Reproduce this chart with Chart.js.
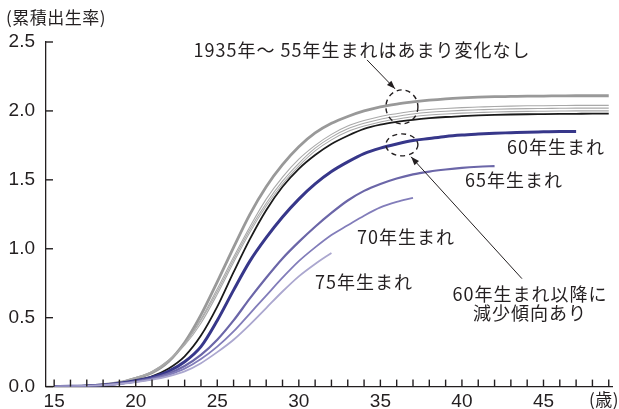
<!DOCTYPE html>
<html lang="ja">
<head>
<meta charset="utf-8">
<script src="https://cdn.jsdelivr.net/npm/chart.js@4.4.1/dist/chart.umd.min.js"></script>
<style>
  html, body { margin: 0; padding: 0; background: #fff; }
  #wrap { position: relative; width: 619px; height: 409px; }
</style>
</head>
<body>
<div id="wrap"><canvas id="grafico"></canvas></div>
<script>
// 出生コーホート別 累積出生率

// ===================== DADOS =====================
const idades = [15, 16, 17, 18, 19, 20, 21, 22, 23, 24, 25, 26, 27, 28, 29, 30, 31, 32,
                33, 34, 35, 36, 37, 38, 39, 40, 41, 42, 43, 44, 45, 46, 47, 48, 49];
const xRotulos = [15, 20, 25, 30, 35, 40, 45];
const yRotulos = [0, 0.5, 1.0, 1.5, 2.0, 2.5];

const c1935 = [0, 0.002, 0.006, 0.015, 0.03, 0.06, 0.10, 0.18, 0.32, 0.52, 0.76, 1.01, 1.25, 1.45,
               1.61, 1.74, 1.84, 1.91, 1.96, 2.00, 2.03, 2.05, 2.065, 2.078, 2.088, 2.095, 2.10,
               2.103, 2.105, 2.107, 2.108, 2.109, 2.11, 2.11, 2.11];
const c1940 = [0, 0.002, 0.006, 0.015, 0.03, 0.06, 0.10, 0.18, 0.31, 0.49, 0.71, 0.94, 1.16, 1.36,
               1.52, 1.65, 1.75, 1.83, 1.89, 1.93, 1.96, 1.98, 1.998, 2.01, 2.018, 2.024, 2.028,
               2.032, 2.035, 2.037, 2.038, 2.039, 2.04, 2.04, 2.04];
const c1945 = [0, 0.002, 0.006, 0.016, 0.032, 0.065, 0.11, 0.19, 0.31, 0.48, 0.69, 0.92, 1.14, 1.33,
               1.49, 1.62, 1.73, 1.81, 1.87, 1.91, 1.94, 1.96, 1.978, 1.99, 1.998, 2.004, 2.008,
               2.012, 2.015, 2.017, 2.018, 2.019, 2.02, 2.02, 2.02];
const c1950 = [0, 0.002, 0.006, 0.016, 0.032, 0.065, 0.11, 0.19, 0.30, 0.46, 0.67, 0.90, 1.12, 1.31,
               1.47, 1.60, 1.71, 1.79, 1.85, 1.89, 1.92, 1.94, 1.958, 1.97, 1.978, 1.984, 1.988,
               1.992, 1.995, 1.997, 1.998, 1.999, 2.00, 2.00, 2.00];
const c1955 = [0, 0.002, 0.005, 0.012, 0.025, 0.045, 0.075, 0.13, 0.22, 0.37, 0.58, 0.83, 1.07, 1.28,
               1.45, 1.58, 1.68, 1.76, 1.82, 1.87, 1.90, 1.92, 1.935, 1.947, 1.956, 1.962, 1.967,
               1.971, 1.974, 1.976, 1.977, 1.978, 1.979, 1.98, 1.98];
const c1960 = [0, 0.002, 0.005, 0.012, 0.024, 0.042, 0.068, 0.11, 0.18, 0.29, 0.48, 0.70, 0.91, 1.08,
               1.23, 1.36, 1.47, 1.56, 1.63, 1.69, 1.73, 1.76, 1.785, 1.80, 1.815, 1.825, 1.832,
               1.838, 1.842, 1.846, 1.848, 1.85, 1.85];
const c1965 = [0, 0.002, 0.005, 0.011, 0.022, 0.038, 0.06, 0.095, 0.15, 0.23, 0.34, 0.48, 0.64, 0.79,
               0.93, 1.05, 1.16, 1.26, 1.35, 1.42, 1.47, 1.51, 1.54, 1.56, 1.575, 1.587, 1.595, 1.60];
const c1970 = [0, 0.002, 0.005, 0.011, 0.021, 0.035, 0.055, 0.085, 0.13, 0.20, 0.29, 0.40, 0.53, 0.66,
               0.79, 0.91, 1.01, 1.10, 1.17, 1.24, 1.30, 1.34, 1.37];
const c1975 = [0, 0.002, 0.005, 0.01, 0.019, 0.032, 0.05, 0.075, 0.11, 0.17, 0.25, 0.34, 0.45, 0.57,
               0.69, 0.80, 0.89, 0.97];

// ===================== CORES =====================
const COR_EIXO  = "#231f20";
const COR_TEXTO = "#231f20";
const FONTE_JP  = '"Noto Sans CJK JP", "Noto Sans", sans-serif';
const FONTE_NUM = '"Liberation Sans", Arial, sans-serif';

const series = [
    { dados: c1975, cor: "#aba7cf", largura: 1.8 },
    { dados: c1970, cor: "#827dba", largura: 1.8 },
    { dados: c1965, cor: "#6b66a8", largura: 2.2 },
    { dados: c1960, cor: "#37378a", largura: 3 },
    { dados: c1950, cor: "#a9a9a9", largura: 1.1 },
    { dados: c1945, cor: "#a9a9a9", largura: 1.1 },
    { dados: c1940, cor: "#a9a9a9", largura: 1.1 },
    { dados: c1955, cor: "#1a1a1a", largura: 1.8 },
    { dados: c1935, cor: "#999999", largura: 2.8 },
];

// anotações em coordenadas de dados (idade, taxa)
const textos = [
    { t: "1935年～ 55年生まれはあまり変化なし", x: 33.87, y: 2.442 },
    { t: "60年生まれ", x: 45.77, y: 1.739 },
    { t: "65年生まれ", x: 43.19, y: 1.50 },
    { t: "70年生まれ", x: 36.57, y: 1.087 },
    { t: "75年生まれ", x: 34.0, y: 0.761 },
    { t: "60年生まれ以降に", x: 44.17, y: 0.674 },
    { t: "減少傾向あり", x: 44.17, y: 0.535 },
];
const circulos = [
    { x: 36.32, y: 2.029, rx: 16, ry: 17 },
    { x: 36.32, y: 1.754, rx: 16, ry: 11 },
];
const setas = [
    { x1: 34.18, y1: 2.37, x2: 35.9, y2: 2.16 },
    { x1: 43.68, y1: 0.783, x2: 36.88, y2: 1.667 },
];

// ===================== PLUGIN =====================
function seta(ctx, x1, y1, x2, y2) {
    const ang = Math.atan2(y2 - y1, x2 - x1);
    ctx.beginPath();
    ctx.moveTo(x1, y1);
    ctx.lineTo(x2, y2);
    ctx.stroke();
    ctx.beginPath();
    ctx.moveTo(x2, y2);
    ctx.lineTo(x2 - 9 * Math.cos(ang - 0.35), y2 - 9 * Math.sin(ang - 0.35));
    ctx.lineTo(x2 - 9 * Math.cos(ang + 0.35), y2 - 9 * Math.sin(ang + 0.35));
    ctx.closePath();
    ctx.fill();
}

const decoracao = {
    id: "decoracao",
    afterDraw(chart) {
        const { ctx, scales: { x, y } } = chart;
        const base = y.getPixelForValue(0);
        const esq  = x.getPixelForValue(14.5);
        ctx.save();
        ctx.strokeStyle = COR_EIXO;
        ctx.lineWidth = 1.4;

        // marcas internas dos eixos (para cima / para a direita)
        for (const v of idades) {
            const px = x.getPixelForValue(v);
            ctx.beginPath();
            ctx.moveTo(px, base);
            ctx.lineTo(px, base - 7);
            ctx.stroke();
        }
        for (const v of yRotulos) {
            const py = y.getPixelForValue(v);
            ctx.beginPath();
            ctx.moveTo(esq, py);
            ctx.lineTo(esq + 7, py);
            ctx.stroke();
        }

        ctx.fillStyle = COR_EIXO;

        // círculos tracejados
        ctx.setLineDash([5, 4]);
        ctx.lineWidth = 1.4;
        circulos.forEach(c => {
            ctx.beginPath();
            ctx.ellipse(x.getPixelForValue(c.x), y.getPixelForValue(c.y), c.rx, c.ry, 0, 0, Math.PI * 2);
            ctx.stroke();
        });
        ctx.setLineDash([]);

        // setas
        ctx.lineWidth = 1;
        setas.forEach(s => seta(ctx,
            x.getPixelForValue(s.x1), y.getPixelForValue(s.y1),
            x.getPixelForValue(s.x2), y.getPixelForValue(s.y2)));

        // textos
        ctx.fillStyle = COR_TEXTO;
        ctx.font = "18px " + FONTE_JP;
        ctx.letterSpacing = "1px";
        ctx.textAlign = "center";
        ctx.textBaseline = "middle";
        textos.forEach(a => ctx.fillText(a.t, x.getPixelForValue(a.x), y.getPixelForValue(a.y)));

        ctx.font = "17px " + FONTE_JP;
        ctx.letterSpacing = "0.5px";
        ctx.textAlign = "left";
        ctx.fillText("(累積出生率)", 6, 18);
        ctx.textAlign = "right";
        ctx.fillText("(歳)", 619, 400);
        ctx.restore();
    }
};

// ===================== GRÁFICO =====================
const datasets = series.map(s => ({
    data: s.dados.map((v, i) => ({ x: idades[i], y: v })),
    borderColor: s.cor,
    borderWidth: s.largura,
    pointRadius: 0,
    fill: false,
    cubicInterpolationMode: "monotone",
}));

new Chart(document.getElementById("grafico"), {
    type: "line",
    data: { datasets },
    options: {
        responsive: true,
        maintainAspectRatio: false,
        animation: false,
        layout: { padding: { top: 42, right: 7, left: 0, bottom: 0 } },
        plugins: { legend: { display: false }, tooltip: { enabled: false } },
        scales: {
            x: {
                type: "linear",
                min: 14.5,
                max: 49.2,
                grid: { display: false, drawTicks: false },
                border: { display: true, color: COR_EIXO, width: 1.3 },
                afterBuildTicks: s => { s.ticks = xRotulos.map(v => ({ value: v })); },
                ticks: {
                    autoSkip: false,
                    maxRotation: 0,
                    padding: 4,
                    color: COR_TEXTO,
                    font: { family: FONTE_NUM, size: 19 },
                },
                afterFit: s => { s.height = 22; },
            },
            y: {
                min: 0,
                max: 2.5,
                grid: { display: false, drawTicks: false },
                border: { display: true, color: COR_EIXO, width: 1.3 },
                afterBuildTicks: s => { s.ticks = yRotulos.map(v => ({ value: v })); },
                ticks: {
                    padding: 11,
                    color: COR_TEXTO,
                    font: { family: FONTE_NUM, size: 19 },
                    callback: v => Number(v).toFixed(1),
                },
                afterFit: s => { s.width = 46; },
            },
        },
    },
    plugins: [decoracao],
});
</script>
</body>
</html>
